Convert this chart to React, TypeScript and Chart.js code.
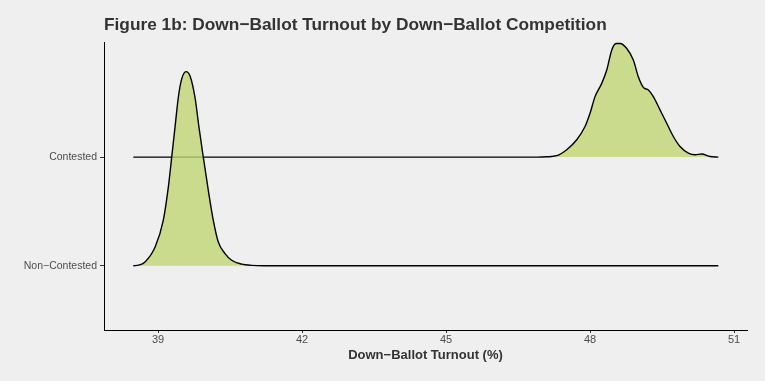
import React, { useEffect, useRef } from "react";
import { Chart, registerables } from "chart.js";

Chart.register(...registerables);

const chartTitle = "Figure 1b: Down\u2212Ballot Turnout by Down\u2212Ballot Competition";
const xAxisTitle = "Down\u2212Ballot Turnout (%)";
const categories = ["Non\u2212Contested", "Contested"];
const xTicks = [39, 42, 45, 48, 51];

// Non-Contested ridge (baseline 1)
const nonContestedX = [38.485, 38.6, 38.73, 38.94, 39.11, 39.215, 39.285, 39.354, 39.423, 39.494, 39.583, 39.667, 39.771, 39.854, 39.944, 40.048, 40.152, 40.256, 40.396, 40.535, 40.744, 40.952, 41.2, 50.673];
const nonContestedY = [1.0, 1.005, 1.035, 1.172, 1.417, 1.723, 1.998, 2.273, 2.549, 2.72, 2.787, 2.748, 2.549, 2.273, 1.998, 1.693, 1.417, 1.218, 1.112, 1.05, 1.014, 1.003, 1.0, 1.0];

// Contested ridge (baseline 2)
const contestedX = [38.485, 46.9, 47.1, 47.306, 47.515, 47.723, 47.896, 48.0, 48.104, 48.244, 48.348, 48.452, 48.542, 48.625, 48.765, 48.902, 49.006, 49.11, 49.215, 49.319, 49.458, 49.598, 49.735, 49.875, 50.048, 50.188, 50.327, 50.5, 50.673];
const contestedY = [2.0, 2.0, 2.003, 2.013, 2.068, 2.16, 2.282, 2.404, 2.557, 2.679, 2.802, 2.985, 3.046, 3.046, 3.0, 2.894, 2.74, 2.642, 2.618, 2.557, 2.435, 2.312, 2.19, 2.098, 2.037, 2.022, 2.028, 2.006, 2.0];

const toPoints = (xs: number[], ys: number[]) => xs.map((x, i) => ({ x, y: ys[i] }));

const FILL = "rgba(192,214,117,0.8)";
const BG = "#efefef";

export default function App() {
  const ref = useRef<HTMLCanvasElement | null>(null);

  useEffect(() => {
    if (!ref.current) return;
    const bgPlugin = {
      id: "bg",
      beforeDraw(chart: any) {
        const { ctx, width, height } = chart;
        ctx.save();
        ctx.fillStyle = BG;
        ctx.fillRect(0, 0, width, height);
        ctx.restore();
      },
      afterDraw(chart: any) {
        const { ctx, chartArea } = chart;
        ctx.save();
        ctx.fillStyle = "#333333";
        ctx.font = 'bold 17.3px "Liberation Sans", Arial, sans-serif';
        ctx.textBaseline = "alphabetic";
        ctx.textAlign = "left";
        ctx.fillText(chartTitle, chartArea.left, 30);
        ctx.restore();
      },
    };

    const chart = new Chart(ref.current, {
      type: "line",
      data: {
        datasets: [
          {
            label: categories[0],
            data: toPoints(nonContestedX, nonContestedY),
            borderColor: "#000000",
            borderWidth: 1.4,
            backgroundColor: FILL,
            fill: { value: 1 },
            pointRadius: 0,
            cubicInterpolationMode: "monotone",
          },
          {
            label: categories[1],
            data: toPoints(contestedX, contestedY),
            borderColor: "#000000",
            borderWidth: 1.4,
            backgroundColor: FILL,
            fill: { value: 2 },
            pointRadius: 0,
            cubicInterpolationMode: "monotone",
          },
        ],
      },
      options: {
        animation: false,
        responsive: false,
        maintainAspectRatio: false,
        layout: { padding: { top: 42, right: 18, bottom: 18, left: 0 } },
        plugins: {
          legend: { display: false },
          tooltip: { enabled: false },
          title: { display: false },
        },
        scales: {
          x: {
            type: "linear",
            min: 37.875,
            max: 51.27,
            afterBuildTicks: (axis: any) => {
              axis.ticks = xTicks.map((v) => ({ value: v }));
            },
            afterFit: (axis: any) => {
              axis.height = 33;
            },
            border: { display: true, color: "#000000", width: 1 },
            grid: { display: true, drawOnChartArea: false, drawTicks: true, tickLength: 3, color: "#333333" },
            ticks: {
              autoSkip: false,
              maxRotation: 0,
              padding: 0,
              color: "#4d4d4d",
              font: { family: '"Liberation Sans", Arial, sans-serif', size: 11 },
              callback: (v: any) => String(v),
            },
            title: {
              display: true,
              text: xAxisTitle,
              color: "#333333",
              font: { family: '"Liberation Sans", Arial, sans-serif', size: 13, weight: "bold" },
              padding: { top: 0, bottom: 0 },
            },
          },
          y: {
            type: "linear",
            min: 0.408,
            max: 3.06,
            afterBuildTicks: (axis: any) => {
              axis.ticks = [1, 2].map((v) => ({ value: v }));
            },
            afterFit: (axis: any) => {
              axis.width = 104;
            },
            border: { display: true, color: "#000000", width: 1 },
            grid: { display: true, drawOnChartArea: false, drawTicks: true, tickLength: 4, color: "#333333" },
            ticks: {
              autoSkip: false,
              padding: 3,
              color: "#4d4d4d",
              font: { family: '"Liberation Sans", Arial, sans-serif', size: 10.5 },
              callback: (v: any) => categories[Math.round(Number(v)) - 1] ?? "",
            },
          },
        },
      },
      plugins: [bgPlugin],
    } as any);

    return () => chart.destroy();
  }, []);

  return (
    <div style={{ position: "fixed", left: 0, top: 0, width: 765, height: 381, background: BG }}>
      <canvas ref={ref} width={765} height={381} style={{ display: "block" }} />
    </div>
  );
}
